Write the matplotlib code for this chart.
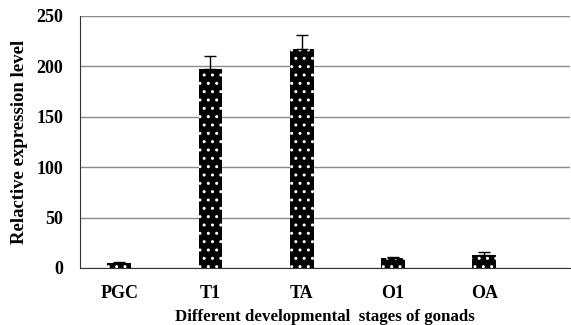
import matplotlib
matplotlib.use("Agg")
import matplotlib.pyplot as plt

categories = ["PGC", "T1", "TA", "O1", "OA"]
values = [5, 197, 217, 10, 13]
errors = [1, 13, 14, 1, 2.5]

plt.rcParams['font.family'] = ['Liberation Serif', 'DejaVu Serif']
plt.rcParams['font.weight'] = 'bold'
plt.rcParams['hatch.linewidth'] = 1.0

fig = plt.figure(figsize=(5.71, 3.25), dpi=100)
ax = fig.add_axes([80/571, 1-268/325, (570-80)/571, (268-16)/325])

x = list(range(len(categories)))
ax.bar(x, values, width=0.26, color='black', edgecolor='white', linewidth=0,
       hatch='..', zorder=3)
ax.errorbar(x, values, yerr=[[0]*len(errors), errors], fmt='none', ecolor='black',
            elinewidth=1, capsize=4, capthick=1, zorder=4)

ax.set_xlim(-0.43, 4.94)
ax.set_ylim(0, 250)
ax.set_yticks([0, 50, 100, 150, 200, 250])
ax.set_xticks(x)
ax.set_xticklabels(categories)
ax.yaxis.grid(True, color='#8a8a8a', linewidth=1)
ax.set_axisbelow(True)
for s in ['top', 'right']:
    ax.spines[s].set_visible(False)
ax.spines['left'].set_color('#333333')
ax.spines['bottom'].set_color('#333333')
ax.tick_params(axis='both', length=0, labelsize=13)
ax.tick_params(axis='x', pad=12)
ax.tick_params(axis='y', pad=12)
ax.set_ylabel('Relactive expression level', fontsize=13.5, fontweight='bold', labelpad=6)
ax.set_xlabel('Different developmental  stages of gonads', fontsize=12.2, fontweight='bold', labelpad=5)

fig.savefig('out.png', dpi=100)
